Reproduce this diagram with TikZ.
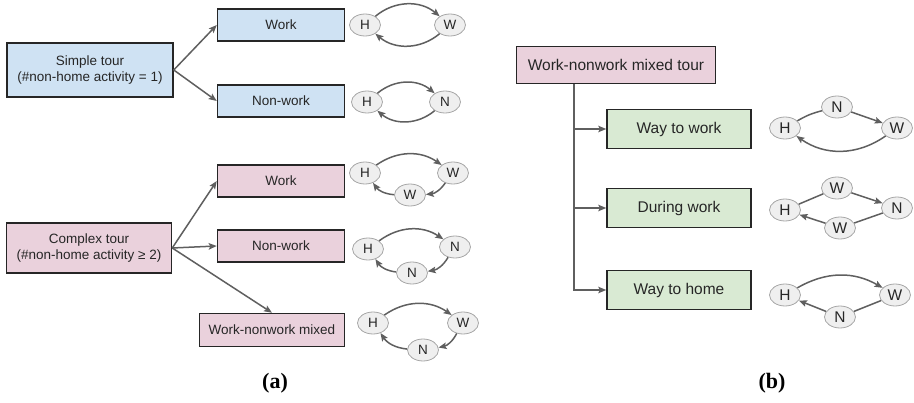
\documentclass[tikz,border=0pt]{standalone}
\usepackage{fontspec}
\setmainfont{Liberation Sans}
\newfontfamily\labelfont{Liberation Serif}
\usetikzlibrary{arrows.meta,shapes.geometric}

\definecolor{tourblue}{HTML}{CFE2F3}
\definecolor{tourpink}{HTML}{EAD1DC}
\definecolor{tourgreen}{HTML}{D9EAD3}
\definecolor{stopfill}{HTML}{EFEFEF}
\definecolor{stoprim}{HTML}{A6A6A6}
\definecolor{linkgray}{HTML}{5F5F5F}
\definecolor{inkgray}{HTML}{262626}

\tikzset{
  box/.style={draw=black!85, line width=1.5pt, text=inkgray, align=center,
    inner sep=0pt, font=\fontsize{13.5}{16}\selectfont},
  bluebox/.style={box, fill=tourblue},
  pinkbox/.style={box, fill=tourpink},
  bigtext/.style={font=\fontsize{15.5}{18}\selectfont},
  greenbox/.style={box, bigtext, fill=tourgreen, minimum width=144pt, minimum height=39pt},
  leafbox/.style={minimum width=127pt, minimum height=32pt},
  stop/.style={ellipse, draw=stoprim, fill=stopfill, line width=0.8pt, text=inkgray,
    minimum width=31pt, minimum height=22pt, inner sep=0pt,
    font=\fontsize{13.5}{16}\selectfont},
  link/.style={draw=linkgray, line width=1.5pt, -{Stealth[length=8pt,width=6.5pt,inset=1.5pt]}},
  hop/.style={link},
  plain/.style={draw=linkgray, line width=1.5pt}
}

\begin{document}
\begin{tikzpicture}[x=1pt,y=-1pt]
\useasboundingbox (0,0) rectangle (914,403);

% (a) simple and complex tours
\node[bluebox, minimum width=166pt, minimum height=54pt] (S) at (90,70) {Simple tour\\(\#non-home activity = 1)};
\node[bluebox, leafbox] (SW) at (281,25) {Work};
\node[bluebox, leafbox] (SN) at (281,101) {Non-work};
\node[pinkbox, minimum width=165pt, minimum height=50pt] (C) at (89,248) {Complex tour\\(\#non-home activity ≥ 2)};
\node[pinkbox, leafbox] (CW) at (281,181) {Work};
\node[pinkbox, leafbox] (CN) at (281,246) {Non-work};
\node[pinkbox, minimum width=145pt, minimum height=33pt] (CM) at (272,330) {Work-nonwork mixed};

\draw[link] (S.east) -- (SW.west);
\draw[link] (S.east) -- (SN.west);
\draw[link] (C.east) -- (CW.west);
\draw[link] (C.east) -- (CN.west);
\draw[link] (C.east) -- (CM.north);

% tour patterns of (a)
\node[stop] (h1) at (365,25) {H};
\node[stop] (w1) at (450,25) {W};
\draw[hop] (h1) to[bend left=40] (w1);
\draw[hop] (w1) to[bend left=40] (h1);

\node[stop] (h2) at (367,102) {H};
\node[stop] (n2) at (445,102) {N};
\draw[hop] (h2) to[bend left=40] (n2);
\draw[hop] (n2) to[bend left=40] (h2);

\node[stop] (h3) at (365,173) {H};
\node[stop] (w3) at (453,173) {W};
\node[stop] (v3) at (410,195) {W};
\draw[hop] (h3) to[bend left=35] (w3);
\draw[hop] (w3) to[bend left=25] (v3);
\draw[hop] (v3) to[bend left=25] (h3);

\node[stop] (h4) at (368,249) {H};
\node[stop] (n4) at (455,247) {N};
\node[stop] (m4) at (412,273) {N};
\draw[hop] (h4) to[bend left=35] (n4);
\draw[hop] (n4) to[bend left=25] (m4);
\draw[hop] (m4) to[bend left=25] (h4);

\node[stop] (h5) at (373,323) {H};
\node[stop] (w5) at (463,323) {W};
\node[stop] (n5) at (423,350) {N};
\draw[hop] (h5) to[bend left=35] (w5);
\draw[hop] (w5) to[bend left=25] (n5);
\draw[hop] (n5) to[bend left=25] (h5);

% (b) work-nonwork mixed tour
\node[pinkbox, bigtext, minimum width=199pt, minimum height=37pt] (M) at (616,65) {Work-nonwork mixed tour};
\node[greenbox] (G1) at (679,129) {Way to work};
\node[greenbox] (G2) at (679,208) {During work};
\node[greenbox] (G3) at (679,290) {Way to home};

\coordinate (trunk) at (574,0);
\draw[link] (M.south -| trunk) |- (G3.west);
\draw[link] (G1.west -| trunk) -- (G1.west);
\draw[link] (G2.west -| trunk) -- (G2.west);

% tour patterns of (b)
\node[stop, bigtext] (h6) at (785,128) {H};
\node[stop, bigtext] (n6) at (837,107) {N};
\node[stop, bigtext] (w6) at (897,128) {W};
\draw[plain] (h6) to[bend left=8] (n6);
\draw[hop] (n6) -- (w6);
\draw[hop] (w6) to[bend left=35] (h6);

\node[stop, bigtext] (h7) at (785,210) {H};
\node[stop, bigtext] (u7) at (837,188) {W};
\node[stop, bigtext] (n7) at (897,208) {N};
\node[stop, bigtext] (v7) at (840,228) {W};
\draw[plain] (h7) -- (u7);
\draw[hop] (u7) -- (n7);
\draw[plain] (n7) -- (v7);
\draw[hop] (v7) -- (h7);

\node[stop, bigtext] (h8) at (785,295) {H};
\node[stop, bigtext] (w8) at (895,295) {W};
\node[stop, bigtext] (n8) at (840,317) {N};
\draw[hop] (h8) to[bend left=30] (w8);
\draw[plain] (w8) -- (n8);
\draw[hop] (n8) -- (h8);

\node[font=\labelfont\bfseries\fontsize{22}{26}\selectfont] (la) at (275,383) {(a)};
\node[font=\labelfont\bfseries\fontsize{22}{26}\selectfont] (lb) at (772,383) {(b)};
\end{tikzpicture}
\end{document}
